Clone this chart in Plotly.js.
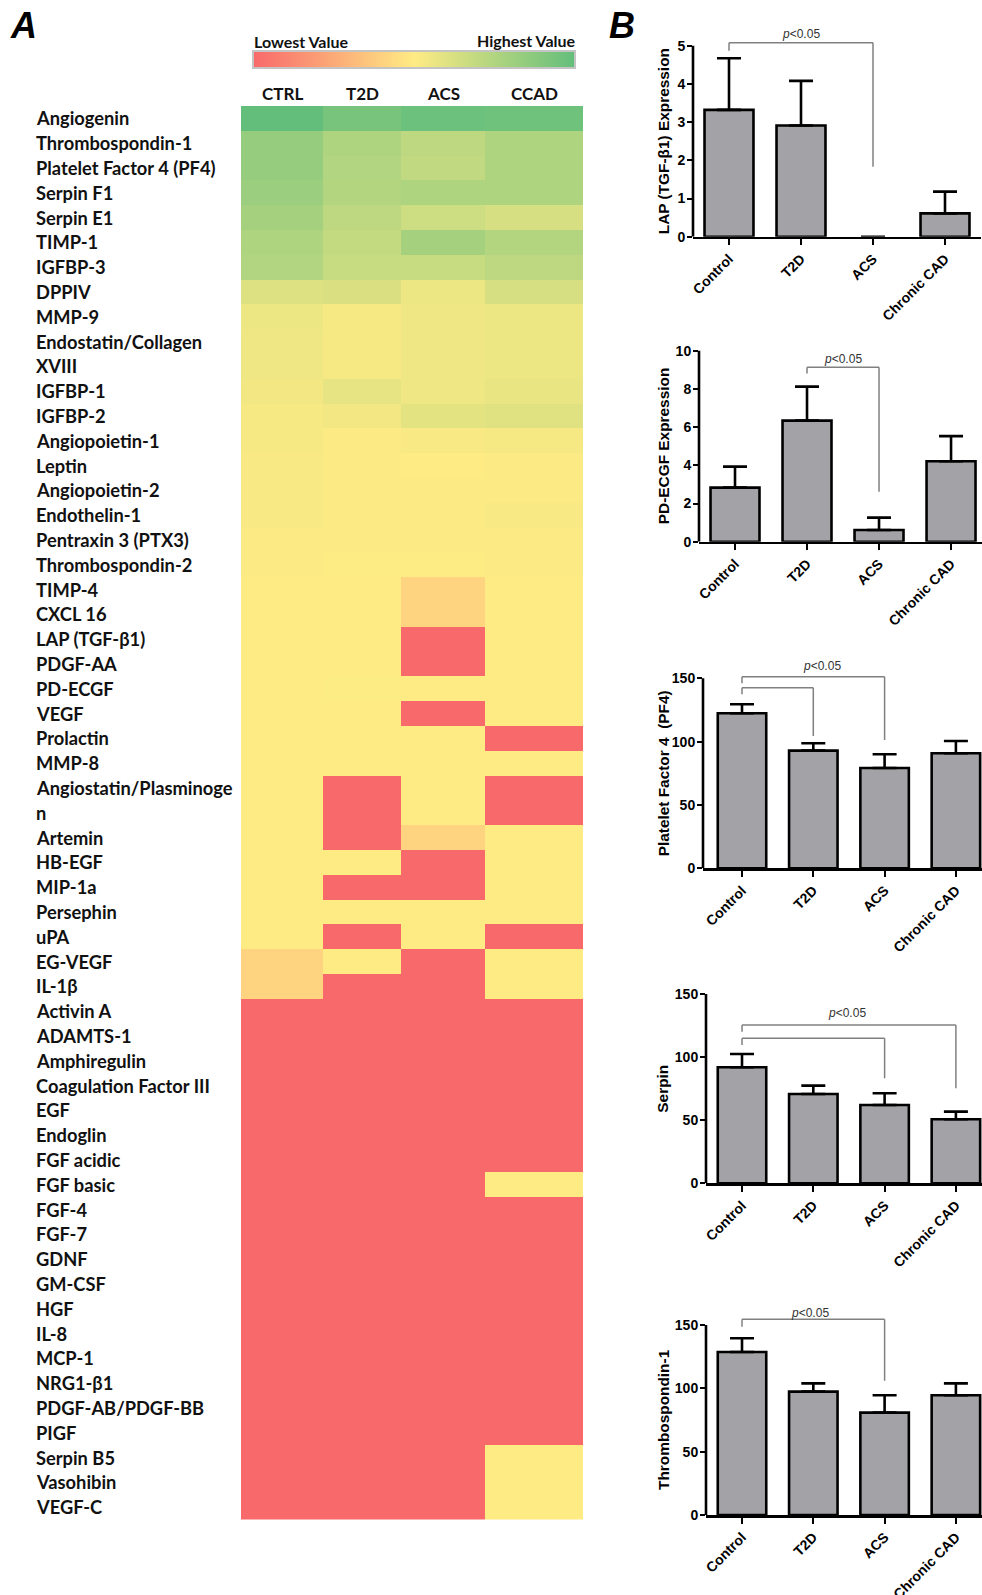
<!DOCTYPE html>
<html><head><meta charset="utf-8">
<script src="https://cdn.plot.ly/plotly-3.0.1.min.js"></script>
<style>html,body{margin:0;padding:0;background:#fff;}#chart{width:982px;height:1595px;}</style>
</head><body><div id="chart"></div>
<script>
// ---------------- Panel A : heatmap data ----------------
const groups = ["CTRL", "T2D", "ACS", "CCAD"];
const proteins = ["Angiogenin","Thrombospondin-1","Platelet Factor 4 (PF4)","Serpin F1","Serpin E1","TIMP-1","IGFBP-3","DPPIV","MMP-9","Endostatin/Collagen\nXVIII","IGFBP-1","IGFBP-2","Angiopoietin-1","Leptin","Angiopoietin-2","Endothelin-1","Pentraxin 3 (PTX3)","Thrombospondin-2","TIMP-4","CXCL 16","LAP (TGF-β1)","PDGF-AA","PD-ECGF","VEGF","Prolactin","MMP-8","Angiostatin/Plasminoge\nn","Artemin","HB-EGF","MIP-1a","Persephin","uPA","EG-VEGF","IL-1β","Activin A","ADAMTS-1","Amphiregulin","Coagulation Factor III","EGF","Endoglin","FGF acidic","FGF basic","FGF-4","FGF-7","GDNF","GM-CSF","HGF","IL-8","MCP-1","NRG1-β1","PDGF-AB/PDGF-BB","PIGF","Serpin B5","Vasohibin","VEGF-C"];
// relative level: 0 = lowest (red), 0.5 = middle (yellow), 1 = highest (green)
const ctrl = [1.00,0.84,0.84,0.82,0.79,0.76,0.75,0.61,0.56,0.55,0.54,0.53,0.53,0.52,0.52,0.52,0.51,0.51,
  0.50,0.50,0.50,0.50,0.50,0.50,0.50,0.50,0.50,0.50,0.50,0.50,0.50,0.50,0.41,0.41,
  0,0,0,0,0,0,0,0,0,0,0,0,0,0,0,0,0,0,0,0,0];
const t2d = [0.93,0.76,0.75,0.74,0.71,0.69,0.68,0.62,0.53,0.53,0.58,0.54,0.51,0.51,0.51,0.51,0.51,0.505,
  0.50,0.50,0.50,0.50,0.505,0.50,0.50,0.50,0,0,0.50,0,0.50,0,0.50,0,
  0,0,0,0,0,0,0,0,0,0,0,0,0,0,0,0,0,0,0,0,0];
const acs = [0.97,0.71,0.70,0.76,0.66,0.79,0.68,0.56,0.55,0.55,0.55,0.59,0.52,0.50,0.51,0.51,0.51,0.505,
  0.41,0.41,0,0,0.50,0,0.50,0.50,0.50,0.41,0,0,0.50,0.50,0,0,
  0,0,0,0,0,0,0,0,0,0,0,0,0,0,0,0,0,0,0,0,0];
const ccad = [0.96,0.76,0.76,0.76,0.63,0.74,0.71,0.63,0.56,0.56,0.57,0.60,0.53,0.51,0.51,0.52,0.51,0.51,
  0.50,0.50,0.50,0.50,0.50,0.50,0,0.50,0,0.50,0.50,0.50,0.50,0,0.50,0.50,
  0,0,0,0,0,0,0,0.50,0,0,0,0,0,0,0,0,0,0,0.50,0.50,0.50];

// ---------------- Panel B : bar chart data (mean, SEM) ----------------
const barGroups = ["Control", "T2D", "ACS", "Chronic CAD"];
const lapMean = [3.32, 2.91, 0, 0.61];        const lapSem = [1.35, 1.17, 0, 0.57];
const pdecgfMean = [2.83, 6.34, 0.61, 4.21];  const pdecgfSem = [1.10, 1.78, 0.65, 1.32];
const pf4Mean = [122.4, 92.9, 79.2, 90.8];    const pf4Sem = [7.1, 5.8, 10.8, 9.7];
const serpinMean = [91.9, 70.8, 62.1, 50.7];  const serpinSem = [10.6, 6.6, 9.2, 6.1];
const tsp1Mean = [128.7, 97.4, 80.8, 94.5];   const tsp1Sem = [10.8, 6.5, 13.7, 9.4];

// ---------------- layout helpers ----------------
const W = 982, H = 1595;
const px = v => v / W;
const py = v => 1 - v / H;
const labelFont = {family: "Lato, 'Open Sans', sans-serif", size: 18.3, weight: 700, color: "#111"};
const arialB = (s) => ({family: "'Liberation Sans', Arial, sans-serif", size: s, weight: 700, color: "#000"});
const bold = s => "<b>" + s + "</b>";

const traces = [];
const annotations = [];
const shapes = [];

// heatmap geometry
const spans = proteins.map(p => p.split("\n").length);
const yEdges = [0];
spans.forEach(s => yEdges.push(yEdges[yEdges.length - 1] + s));
const totalRows = yEdges[yEdges.length - 1];
const colEdges = [0, 82, 160, 244, 342];   // column widths (px-like units)
const z = proteins.map((p, i) => [ctrl[i], t2d[i], acs[i], ccad[i]]);

traces.push({
  type: "heatmap", x: colEdges, y: yEdges, z: z, zmin: 0, zmax: 1,
  colorscale: [[0, "#F8696B"], [0.5, "#FFEB84"], [1, "#63BE7B"]],
  xaxis: "x", yaxis: "y", hoverinfo: "skip", xgap: 0, ygap: 0,
  colorbar: {
    orientation: "h", x: px(414), xanchor: "center", y: py(51), yanchor: "top",
    len: 322, lenmode: "pixels", thickness: 17, thicknessmode: "pixels",
    showticklabels: false, ticks: "", outlinewidth: 2, outlinecolor: "#c4c4c4",
    xpad: 0, ypad: 0, borderwidth: 0
  }
});

// row labels
proteins.forEach((p, i) => {
  p.split("\n").forEach((line, j) => {
    annotations.push({
      xref: "paper", yref: "y", x: px(34), y: yEdges[i] + j + 0.5,
      xanchor: "left", yanchor: "middle", text: line, showarrow: false, font: labelFont
    });
  });
});
// column headers
groups.forEach((g, k) => {
  annotations.push({
    xref: "x", yref: "paper", x: (colEdges[k] + colEdges[k + 1]) / 2, y: py(93.5),
    xanchor: "center", yanchor: "middle", text: g, showarrow: false,
    font: Object.assign({}, labelFont, {size: 17})
  });
});
annotations.push({xref: "paper", yref: "paper", x: px(252), y: py(41.5), xanchor: "left", yanchor: "middle",
  text: "Lowest Value", showarrow: false, font: Object.assign({}, labelFont, {size: 16})});
annotations.push({xref: "paper", yref: "paper", x: px(578), y: py(40.5), xanchor: "right", yanchor: "middle",
  text: "Highest Value", showarrow: false, font: Object.assign({}, labelFont, {size: 16})});
// panel letters
const letterFont = {family: "'Liberation Sans', Arial, sans-serif", size: 36, weight: 700, style: "italic", color: "#000"};
annotations.push({xref: "paper", yref: "paper", x: px(8), y: py(25.5), xanchor: "left", yanchor: "middle", text: "A", showarrow: false, font: letterFont});
annotations.push({xref: "paper", yref: "paper", x: px(607), y: py(25.5), xanchor: "left", yanchor: "middle", text: "B", showarrow: false, font: letterFont});

const layout = {
  width: W, height: H,
  margin: {l: 0, r: 0, t: 0, b: 0, autoexpand: false},
  paper_bgcolor: "#fff", plot_bgcolor: "rgba(0,0,0,0)", showlegend: false,
  font: {family: "'Liberation Sans', Arial, sans-serif", color: "#000"},
  xaxis: {domain: [px(241), px(583)], range: [0, colEdges[colEdges.length - 1]], visible: false, fixedrange: true},
  yaxis: {domain: [py(1519.5), py(106)], range: [totalRows, 0], visible: false, fixedrange: true}
};

// ---------------- Panel B configuration ----------------
const panels = [
  {mean: lapMean, sem: lapSem, title: "LAP (TGF-β1) Expression", tickMax: 5, dtick: 1, rangeMax: 5.5,
   y0: 236.7, yTop: 45.7, xL: 693, xR: 981, xr: [-0.5, 3.5],
   brackets: [[0, 2, 5.08, 4.87, 1.83]], pText: [1.0, 5.31]},
  {mean: pdecgfMean, sem: pdecgfSem, title: "PD-ECGF Expression", tickMax: 10, dtick: 2, rangeMax: 10.3,
   y0: 541.7, yTop: 350.7, xL: 699, xR: 982, xr: [-0.5, 3.43],
   brackets: [[1, 2, 9.13, 8.81, 2.62]], pText: [1.5, 9.55]},
  {mean: pf4Mean, sem: pf4Sem, title: "Platelet Factor 4\u00a0 (PF4)", tickMax: 150, dtick: 50, rangeMax: 165,
   y0: 868.3, yTop: 678.3, xL: 703, xR: 982, xr: [-0.547, 3.366],
   brackets: [[0, 2, 151.3, 146.0, 101.3], [0, 1, 142.6, 137.4, 104.5]], pText: [1.12, 159.7]},
  {mean: serpinMean, sem: serpinSem, title: "Serpin", tickMax: 150, dtick: 50, rangeMax: 150,
   y0: 1183.3, yTop: 994, xL: 706, xR: 982, xr: [-0.505, 3.366],
   brackets: [[0, 3, 125.4, 120.1, 75.3], [0, 2, 114.9, 109.6, 83.2]], pText: [1.47, 134.7]},
  {mean: tsp1Mean, sem: tsp1Sem, title: "Thrombospondin-1", tickMax: 150, dtick: 50, rangeMax: 165,
   y0: 1515, yTop: 1325, xL: 706, xR: 982, xr: [-0.505, 3.366],
   brackets: [[0, 2, 154.5, 148.7, 106.0]], pText: [0.96, 159.7]}
];

panels.forEach((P, k) => {
  const n = k + 2, xa = "x" + n, ya = "y" + n;
  const pxPerUnit = (P.y0 - P.yTop) / P.tickMax;
  const topPx = P.y0 - P.rangeMax * pxPerUnit;
  const tv = [];
  for (let v = 0; v <= P.tickMax + 1e-9; v += P.dtick) tv.push(v);

  traces.push({
    type: "bar", x: barGroups, y: P.mean, xaxis: xa, yaxis: ya, width: 0.68,
    marker: {color: "#a3a3a7", opacity: P.mean.map(v => v > 0 ? 1 : 0),
      line: {color: "#000", width: P.mean.map(v => v > 0 ? 2.6 : 0)}},
    error_y: {type: "data", symmetric: false,
      array: P.sem.map((s, i) => P.mean[i] > 0 ? s : NaN), arrayminus: P.sem.map(() => 0),
      color: "#000", thickness: 2.6, width: 12},
    hoverinfo: "skip"
  });

  layout["xaxis" + n] = {
    domain: [px(P.xL), px(P.xR)], range: P.xr, anchor: ya, type: "category",
    tickvals: barGroups, ticktext: barGroups.map(bold),
    showline: true, linecolor: "#000", linewidth: 2.6, ticks: "outside", ticklen: 6, tickwidth: 2,
    tickcolor: "#000", tickangle: -45, tickfont: arialB(14), showgrid: false, zeroline: false, fixedrange: true
  };
  layout["yaxis" + n] = {
    domain: [py(P.y0), py(topPx)], range: [0, P.rangeMax], anchor: xa,
    showline: false, tickvals: tv, ticktext: tv.map(v => bold(v)), ticks: "outside", ticklen: 5, tickwidth: 2, tickcolor: "#000",
    ticklabelstandoff: -1,
    tickfont: arialB(14), showgrid: false, zeroline: false, fixedrange: true
  };
  // y axis line from 0 to last tick
  shapes.push({type: "line", xref: xa + " domain", yref: ya, x0: 0, x1: 0, y0: 0, y1: P.tickMax,
    line: {color: "#000", width: 2.6}});
  // significance brackets
  P.brackets.forEach(b => {
    const ln = {color: "#808080", width: 1.5};
    shapes.push({type: "line", xref: xa, yref: ya, x0: b[0], x1: b[1], y0: b[2], y1: b[2], line: ln});
    shapes.push({type: "line", xref: xa, yref: ya, x0: b[0], x1: b[0], y0: b[2], y1: b[3], line: ln});
    shapes.push({type: "line", xref: xa, yref: ya, x0: b[1], x1: b[1], y0: b[2], y1: b[4], line: ln});
  });
  annotations.push({xref: xa, yref: ya, x: P.pText[0], y: P.pText[1], xanchor: "center", yanchor: "middle",
    text: "<i>p</i>&lt;0.05", showarrow: false,
    font: {family: "'Liberation Sans', Arial, sans-serif", size: 12, color: "#333"}});
  // y axis title
  annotations.push({xref: "paper", yref: ya, x: px(663), y: P.tickMax / 2, xanchor: "center", yanchor: "middle",
    text: bold(P.title), textangle: -90, showarrow: false, font: arialB(15.4)});
});

layout.annotations = annotations;
layout.shapes = shapes;

Plotly.newPlot("chart", traces, layout, {staticPlot: true, displayModeBar: false});
</script>
</body></html>
